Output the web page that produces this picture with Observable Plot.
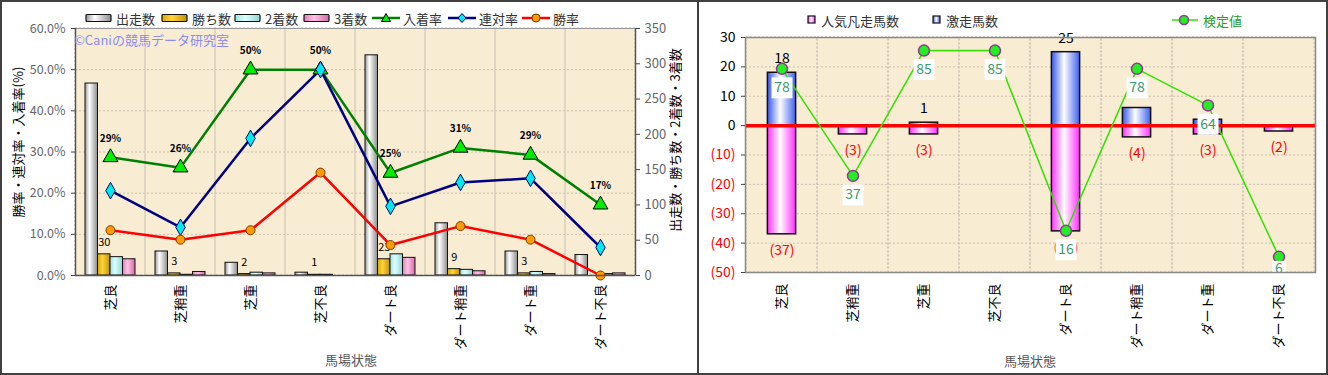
<!DOCTYPE html>
<html><head><meta charset="utf-8">
<script src="https://cdn.jsdelivr.net/npm/d3@7"></script>
<script src="https://cdn.jsdelivr.net/npm/@observablehq/plot@0.6"></script>
<style>
body{margin:0;background:#fff;font-family:"Noto Sans CJK JP","Noto Sans",sans-serif;}
#wrap{position:relative;width:1328px;height:375px;box-sizing:border-box;border:2px solid #404040;overflow:hidden;background:#fff;}
.abs{position:absolute;}
.vt{position:absolute;white-space:nowrap;transform:translate(-50%,-50%) rotate(-90deg);font-size:13px;color:#000;}
.leg{position:absolute;display:flex;align-items:center;font-size:13px;color:#333;white-space:nowrap;height:18px;}
.leg svg{margin-right:3px;}
</style></head>
<body>
<svg width="0" height="0" style="position:absolute">
<defs>
<linearGradient id="gGray" x1="0" x2="1" y1="0" y2="0"><stop offset="0" stop-color="#9a9a9a"/><stop offset="0.35" stop-color="#ffffff"/><stop offset="1" stop-color="#8c8c8c"/></linearGradient>
<linearGradient id="gGold" x1="0" x2="1" y1="0" y2="0"><stop offset="0" stop-color="#d9a800"/><stop offset="0.4" stop-color="#ffd23a"/><stop offset="1" stop-color="#c49400"/></linearGradient>
<linearGradient id="gCyan" x1="0" x2="1" y1="0" y2="0"><stop offset="0" stop-color="#9ee0e0"/><stop offset="0.4" stop-color="#ddffff"/><stop offset="1" stop-color="#94d4d4"/></linearGradient>
<linearGradient id="gPink" x1="0" x2="1" y1="0" y2="0"><stop offset="0" stop-color="#e27ab8"/><stop offset="0.4" stop-color="#ffc4e4"/><stop offset="1" stop-color="#d46aa8"/></linearGradient>
<linearGradient id="gBlue" x1="0" x2="1" y1="0" y2="0"><stop offset="0" stop-color="#3355ee"/><stop offset="0.45" stop-color="#ffffff"/><stop offset="1" stop-color="#4060f0"/></linearGradient>
<linearGradient id="gMag" x1="0" x2="1" y1="0" y2="0"><stop offset="0" stop-color="#ff30ff"/><stop offset="0.45" stop-color="#ffffff"/><stop offset="1" stop-color="#ff30ff"/></linearGradient>
</defs>
</svg>
<div id="wrap">
  <div id="left" class="abs" style="left:0;top:0;width:697px;height:375px;"></div>
  <div class="abs" style="left:695px;top:0;width:2px;height:375px;background:#404040;"></div>
  <div id="right" class="abs" style="left:697px;top:0;width:631px;height:375px;"></div>
</div>
<script>
// ---------- data ----------
const categories = ["芝良","芝稍重","芝重","芝不良","ダート良","ダート稍重","ダート重","ダート不良"];
// left chart (counts)
const starts  = [272, 34, 18, 4, 312, 74, 34, 29];
const wins    = [30, 3, 2, 1, 23, 9, 3, 0];
const seconds = [26, 1, 4, 1, 30, 8, 5, 2];
const thirds  = [23, 5, 3, 0, 25, 6, 2, 3];
// left chart (rates)
const placeRate    = [0.287, 0.262, 0.500, 0.500, 0.249, 0.310, 0.293, 0.172];
const quinellaRate = [0.206, 0.117, 0.333, 0.500, 0.168, 0.226, 0.236, 0.068];
const winRate      = [0.110, 0.087, 0.110, 0.250, 0.074, 0.120, 0.087, 0.000];
const pctTicks   = [0, 0.1, 0.2, 0.3, 0.4, 0.5, 0.6];
const countTicks = [0, 50, 100, 150, 200, 250, 300, 350];
// right chart
const popularFail = [37, 3, 3, 0, 36, 4, 3, 2];   // 人気凡走馬数 (drawn negative)
const upsetCount  = [18, 0, 1, 0, 25, 6, 2, 0];   // 激走馬数
const upsetLabels = ["18", "", "1", "", "25", "", "", ""]; // labels visible in the picture
const testValue   = [78, 37, 85, 85, 16, 78, 64, 6]; // 検定値
const rTicksPos = [0, 10, 20, 30];
const rTicksNeg = [-50, -40, -30, -20, -10];

const FONT = '"Noto Sans CJK JP","Noto Sans",sans-serif';
const BG = "#f8ecd3";
const GRID = "#c8c0b0";

// ---------- left chart ----------
const K = 0.6 / 350; // count -> percent axis
const rowsL = categories.map((c, i) => ({
  c, starts: starts[i], wins: wins[i], seconds: seconds[i], thirds: thirds[i],
  place: placeRate[i], quin: quinellaRate[i], win: winRate[i]
}));
const BWL = (697 - 73 - 64) / categories.length;
const barW = 12.5, insL = (BWL - barW) / 2;
const barSeries = [
  {key: "starts",  fill: "url(#gGray)", dx: -1.5 * barW},
  {key: "wins",    fill: "url(#gGold)", dx: -0.5 * barW},
  {key: "seconds", fill: "url(#gCyan)", dx: 0.5 * barW},
  {key: "thirds",  fill: "url(#gPink)", dx: 1.5 * barW}
];

const left = Plot.plot({
  width: 697, height: 375,
  marginTop: 26, marginBottom: 102, marginLeft: 73, marginRight: 64,
  style: {fontFamily: FONT, fontSize: "12px", background: "transparent", overflow: "visible"},
  x: {type: "band", domain: categories, padding: 0},
  y: {domain: [0, 0.6]},
  marks: [
    Plot.frame({fill: BG, stroke: "none"}),
    Plot.gridY(pctTicks.slice(1, -1), {stroke: GRID, strokeOpacity: 1, strokeDasharray: "2,2"}),
    Plot.barY(categories, {x: d => d, y1: 0, y2: 0.6, fill: "none", stroke: GRID, strokeDasharray: "2,2"}),
    ...barSeries.map(s => Plot.barY(rowsL, {
      x: "c", y: d => d[s.key] * K, fill: s.fill, stroke: "#111", strokeWidth: 1,
      insetLeft: insL, insetRight: insL, dx: s.dx
    })),
    Plot.text(rowsL, {x: "c", y: d => d.wins * K, text: d => d.wins > 0 ? String(d.wins) : "", dx: -0.5 * barW, dy: -12, fontSize: 11, fill: "#000"}),
    Plot.line(rowsL, {x: "c", y: "place", stroke: "#008000", strokeWidth: 2.5}),
    Plot.line(rowsL, {x: "c", y: "quin", stroke: "#000080", strokeWidth: 2.5}),
    Plot.line(rowsL, {x: "c", y: "win", stroke: "#ff0000", strokeWidth: 2.5}),
    Plot.dot(rowsL, {x: "c", y: "place", symbol: "triangle", r: 5.5, fill: "#00ee00", stroke: "#000", strokeWidth: 1}),
    Plot.dot(rowsL, {x: "c", y: "quin", symbol: "diamond", r: 5, fill: "#00e8f0", stroke: "#000060", strokeWidth: 1}),
    Plot.dot(rowsL, {x: "c", y: "win", symbol: "circle", r: 4.5, fill: "#ff9a00", stroke: "#7a3a00", strokeWidth: 1}),
    Plot.text(rowsL, {x: "c", y: "place", text: d => Math.round(d.place * 100) + "%", dy: -19, fontSize: 10, fontWeight: "bold", fill: "#000"}),
    Plot.frame({stroke: "#999", strokeWidth: 1}),
    Plot.ruleY([0], {stroke: "#555", strokeWidth: 1.5}),
    Plot.ruleX([categories[0]], {stroke: "#555", strokeWidth: 1.5, dx: -BWL / 2}),
    Plot.ruleX([categories[categories.length - 1]], {stroke: "#555", strokeWidth: 1.5, dx: BWL / 2}),
    Plot.axisY(pctTicks, {anchor: "left", tickFormat: d3.format(".1%"), tickSize: 4, tickPadding: 6, fill: "#666", stroke: "#444", fontSize: 12.5, label: null}),
    Plot.axisY(countTicks.map(t => t * K), {anchor: "right", tickFormat: d => String(Math.round(d / K)), tickSize: 4, tickPadding: 5, fill: "#666", stroke: "#444", fontSize: 13, label: null}),
    Plot.axisX({tickRotate: -90, tickSize: 0, tickPadding: 9, fontSize: 13, fill: "#000", label: null})
  ]
});
document.getElementById("left").appendChild(left);

// ---------- right chart ----------
const TV = v => v * (80 / 90) - 50; // hidden secondary axis 0..90 -> -50..30
const rowsR = categories.map((c, i) => ({c, pop: popularFail[i], up: upsetCount[i], upLabel: upsetLabels[i], tv: testValue[i]}));
const BWR = (631 - 46 - 15) / categories.length;
const insR = (BWR - 28.5) / 2;
const nearBottom = d => TV(d.tv) < -42;

const right = Plot.plot({
  width: 631, height: 375,
  marginTop: 35, marginBottom: 105, marginLeft: 46, marginRight: 15,
  style: {fontFamily: FONT, fontSize: "13px", background: "transparent", overflow: "visible"},
  x: {type: "band", domain: categories, padding: 0},
  y: {domain: [-50, 30]},
  marks: [
    Plot.frame({fill: BG, stroke: "none"}),
    Plot.gridY([...rTicksNeg, 10, 20], {stroke: GRID, strokeOpacity: 1, strokeDasharray: "2,2"}),
    Plot.barY(categories, {x: d => d, y1: -50, y2: 30, fill: "none", stroke: GRID, strokeDasharray: "2,2"}),
    Plot.barY(rowsR, {x: "c", y1: 0, y2: d => -d.pop, filter: d => d.pop > 0, fill: "url(#gMag)", stroke: "#111", strokeWidth: 1.5, insetLeft: insR, insetRight: insR}),
    Plot.barY(rowsR, {x: "c", y1: 0, y2: "up", filter: d => d.up > 0, fill: "url(#gBlue)", stroke: "#111", strokeWidth: 1.5, insetLeft: insR, insetRight: insR}),
    Plot.ruleY([0], {stroke: "#ff0000", strokeWidth: 3.5}),
    Plot.text(rowsR, {x: "c", y: "up", filter: d => d.upLabel !== "", text: "upLabel", dy: -14, fontSize: 14, fill: "#000"}),
    Plot.text(rowsR, {x: "c", y: d => -d.pop, filter: d => d.pop > 0, text: d => `(${d.pop})`, dy: 16, fontSize: 14, fill: "#ff0000"}),
    Plot.line(rowsR, {x: "c", y: d => TV(d.tv), stroke: "#33e000", strokeWidth: 1.5}),
    Plot.dot(rowsR, {x: "c", y: d => TV(d.tv), r: 5.5, fill: "#22ee22", stroke: "#993399", strokeWidth: 1.5}),
    Plot.dot(rowsR, {x: "c", y: d => TV(d.tv), filter: d => !nearBottom(d), symbol: "square", r: 11.8, fill: "#fff", stroke: "none", dy: 19}),
    Plot.dot(rowsR, {x: "c", y: d => TV(d.tv), filter: nearBottom, symbol: "square", r: 7.8, fill: "#fff", stroke: "none", dy: 11}),
    Plot.text(rowsR, {x: "c", y: d => TV(d.tv), filter: d => !nearBottom(d), text: d => String(d.tv), dy: 19, fontSize: 14, fill: "#3a9a6e"}),
    Plot.text(rowsR, {x: "c", y: d => TV(d.tv), filter: nearBottom, text: d => String(d.tv), dy: 12, fontSize: 14, fill: "#3a9a6e"}),
    Plot.frame({stroke: "#888", strokeWidth: 1.5}),
    Plot.axisY(rTicksPos, {anchor: "left", tickSize: 4, tickPadding: 6, fill: "#000", stroke: "#444", fontSize: 14, label: null}),
    Plot.axisY(rTicksNeg, {anchor: "left", tickFormat: d => `(${-d})`, tickSize: 4, tickPadding: 6, fill: "#ff0000", stroke: "#444", fontSize: 14, label: null}),
    Plot.axisX({tickRotate: -90, tickSize: 0, tickPadding: 11, fontSize: 13, fill: "#000", label: null})
  ]
});
document.getElementById("right").appendChild(right);

// ---------- titles, legends, watermark (HTML) ----------
const wrap = document.getElementById("wrap");
function add(html) { wrap.insertAdjacentHTML("beforeend", html); }
add(`<div class="vt" style="left:15px;top:140px;">勝率・連対率・入着率(%)</div>`);
add(`<div class="vt" style="left:672px;top:138px;">出走数・勝ち数・2着数・3着数</div>`);
add(`<div class="abs" style="left:349px;top:357px;transform:translate(-50%,-50%);font-size:13px;color:#555;white-space:nowrap;">馬場状態</div>`);
add(`<div class="abs" style="left:1028px;top:358px;transform:translate(-50%,-50%);font-size:13px;color:#555;white-space:nowrap;">馬場状態</div>`);
add(`<div class="abs" style="left:72px;top:28px;font-size:13px;color:#8a8cf2;white-space:nowrap;">©Caniの競馬データ研究室</div>`);

const barLeg = [["出走数", "gGray", 83], ["勝ち数", "gGold", 159], ["2着数", "gCyan", 232], ["3着数", "gPink", 301]];
barLeg.forEach(([t, g, x]) => add(`<div class="leg" style="left:${x}px;top:7px;"><svg width="28" height="10"><rect x="1" y="1.5" width="25" height="7" rx="1" fill="url(#${g})" stroke="#111" stroke-width="1.2"/></svg>${t}</div>`));
const sym = {
  tri: `<path d="M14,0.5 L18.5,8.5 L9.5,8.5 Z" fill="#00ee00" stroke="#000" stroke-width="1"/>`,
  dia: `<path d="M14,0.5 L18,5 L14,9.5 L10,5 Z" fill="#00e8f0" stroke="#000060" stroke-width="1"/>`,
  cir: `<circle cx="14" cy="5" r="4" fill="#ff9a00" stroke="#7a3a00" stroke-width="1"/>`
};
const lineLeg = [["入着率", "#008000", "tri", 370], ["連対率", "#000080", "dia", 446], ["勝率", "#ff0000", "cir", 520]];
lineLeg.forEach(([t, c, s, x]) => add(`<div class="leg" style="left:${x}px;top:7px;"><svg width="28" height="10"><line x1="0" x2="28" y1="5" y2="5" stroke="${c}" stroke-width="2.5"/>${sym[s]}</svg>${t}</div>`));

add(`<div class="leg" style="left:805px;top:9px;"><svg width="11" height="10"><rect x="1" y="1" width="7" height="7" fill="url(#gMag)" stroke="#111" stroke-width="1.2"/></svg>人気凡走馬数</div>`);
add(`<div class="leg" style="left:930px;top:9px;"><svg width="11" height="10"><rect x="1" y="1" width="7" height="7" fill="url(#gBlue)" stroke="#111" stroke-width="1.2"/></svg>激走馬数</div>`);
add(`<div class="leg" style="left:1170px;top:9px;color:#2e9a2e;"><svg width="28" height="12"><line x1="0" x2="26" y1="6" y2="6" stroke="#33e000" stroke-width="1.5"/><circle cx="12" cy="6" r="4.5" fill="#22ee22" stroke="#993399" stroke-width="1.5"/></svg>検定値</div>`);
</script>
</body></html>
